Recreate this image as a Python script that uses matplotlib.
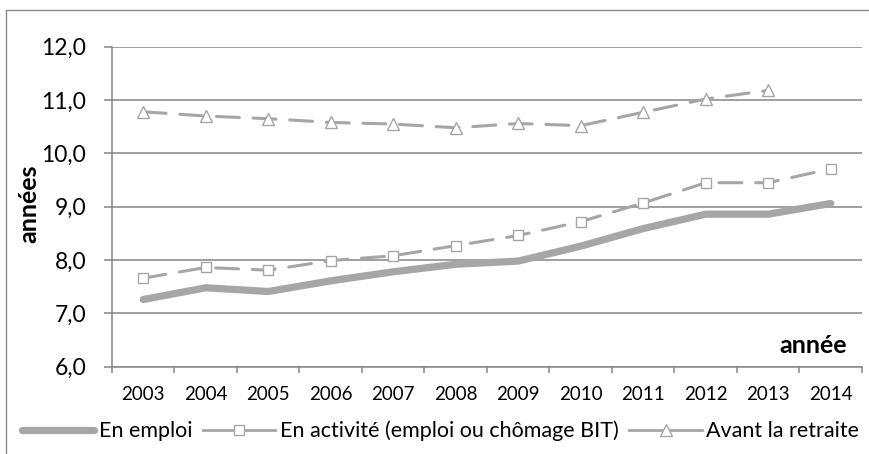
import matplotlib
matplotlib.use("Agg")
import matplotlib.pyplot as plt
from matplotlib.patches import Rectangle
import numpy as np

plt.rcParams['font.family'] = ['Lato', 'DejaVu Sans']

years = ['2003', '2004', '2005', '2006', '2007', '2008', '2009', '2010', '2011', '2012', '2013', '2014']
en_emploi = [7.26, 7.48, 7.41, 7.61, 7.78, 7.92, 7.98, 8.26, 8.59, 8.86, 8.86, 9.06]
en_activite = [7.66, 7.86, 7.81, 7.99, 8.08, 8.27, 8.46, 8.72, 9.07, 9.45, 9.45, 9.71]
avant_retraite = [10.78, 10.70, 10.65, 10.58, 10.55, 10.48, 10.56, 10.52, 10.77, 11.02, 11.18, np.nan]
yticks = [6.0, 7.0, 8.0, 9.0, 10.0, 11.0, 12.0]
ytick_labels = ['6,0', '7,0', '8,0', '9,0', '10,0', '11,0', '12,0']
labels = ['En emploi', 'En activité (emploi ou chômage BIT)', 'Avant la retraite']

W, H = 870, 454
fig = plt.figure(figsize=(W / 100, H / 100), dpi=100)

# outer chart frame
fig.patches.append(Rectangle((6 / W, -0.2), 1.2, 1.2 - 10 / H, transform=fig.transFigure,
                             fill=False, edgecolor='#898989', linewidth=1.0))

left, right, top, bottom = 112, 862, 46.7, 366.7
ax = fig.add_axes([left / W, 1 - bottom / H, (right - left) / W, (bottom - top) / H])

gridc = '#868686'
linec = '#a6a6a6'
x = np.arange(len(years))

ax.plot(x, en_emploi, color=linec, lw=5.2, solid_capstyle='round', solid_joinstyle='round',
        label=labels[0], zorder=3)
ax.plot(x, en_activite, color=linec, lw=2.2, linestyle=(0, (7.5, 4.5)), dash_capstyle='round',
        marker='s', markersize=7, markerfacecolor='white', markeredgecolor=linec,
        markeredgewidth=1.0, label=labels[1], zorder=4)
ax.plot(x, avant_retraite, color=linec, lw=2.2, linestyle=(0, (7.5, 4.5)), dash_capstyle='round',
        marker='^', markersize=8, markerfacecolor='white', markeredgecolor=linec,
        markeredgewidth=1.0, label=labels[2], zorder=4)

ax.set_xlim(-0.5, len(years) - 0.5)
ax.set_ylim(6.0, 12.0)
ax.set_yticks(yticks)
ax.set_yticklabels(ytick_labels)
ax.set_xticks(x)
ax.set_xticklabels(years)
ax.set_xticks(np.arange(-0.5, len(years)), minor=True)

ax.grid(axis='y', color=gridc, linewidth=1.1, zorder=0)
ax.set_axisbelow(True)
for s in ['top', 'right']:
    ax.spines[s].set_visible(False)
for s in ['left', 'bottom']:
    ax.spines[s].set_color(gridc)
    ax.spines[s].set_linewidth(1.1)

ax.tick_params(axis='y', length=6, width=1.1, color=gridc, pad=12.5, labelsize=16.5, labelcolor='black')
ax.tick_params(axis='x', which='major', length=0, pad=14, labelsize=13.5, labelcolor='black')
ax.tick_params(axis='x', which='minor', length=4, width=1.1, color=gridc)

ax.text(0.98, 0.065, 'année', transform=ax.transAxes, ha='right', va='center',
        fontsize=18, fontweight='bold')
fig.text(29 / W, 1 - 204 / H, 'années', rotation=90, ha='center', va='center',
         fontsize=18, fontweight='bold')

leg = fig.legend(loc='center left', bbox_to_anchor=(22 / W, 1 - 431 / H), ncol=3, frameon=False,
                 fontsize=15.5, handlelength=3.35, handletextpad=0.22, columnspacing=0.5,
                 borderpad=0, borderaxespad=0)
for ln in leg.get_lines()[1:]:
    ln.set_linestyle('-')
    ln.set_linewidth(2.0)

fig.savefig('out.png', dpi=100)
